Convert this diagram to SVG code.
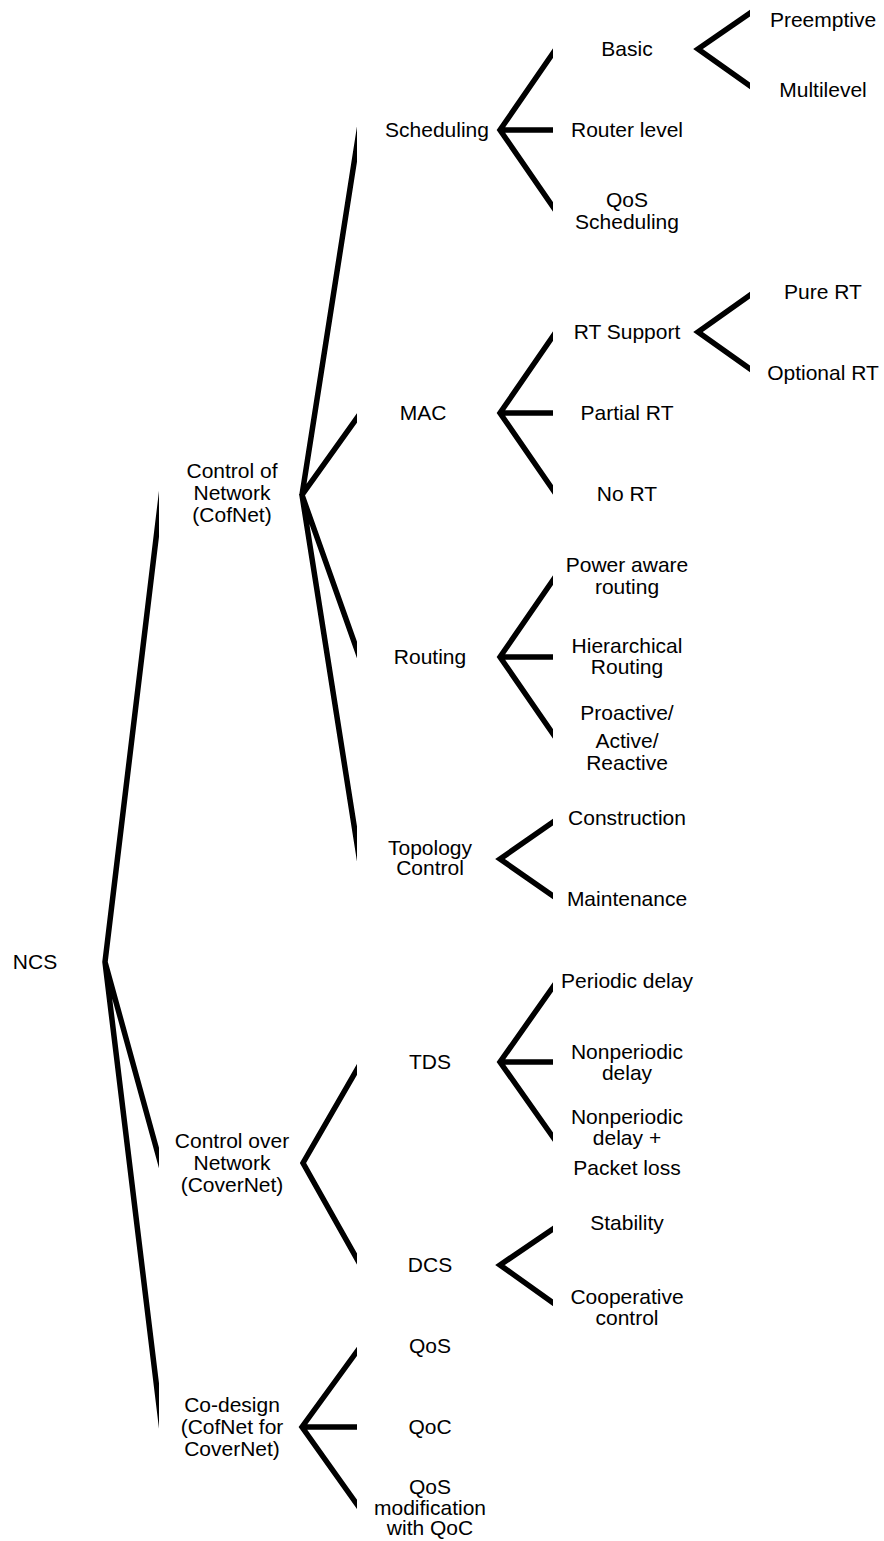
<svg xmlns="http://www.w3.org/2000/svg" width="884" height="1541" viewBox="0 0 884 1541">
<style>
text{font-family:"Liberation Sans",Arial,sans-serif;font-size:21px;fill:#000;text-anchor:middle}
.c{fill:none;stroke:#000;stroke-width:5.5;stroke-linejoin:miter;stroke-miterlimit:20;stroke-linecap:butt}
</style>
<defs>
<clipPath id="cols">
<rect x="80" y="0" width="79" height="1541"/>
<rect x="280" y="0" width="77" height="1541"/>
<rect x="480" y="0" width="73" height="1541"/>
<rect x="680" y="0" width="70" height="1541"/>
</clipPath>
</defs>
<rect width="884" height="1541" fill="#fff"/>
<g id="connectors" clip-path="url(#cols)">
<path class="c" d="M167.1,446.6 L105,962 L167.1,1472.6 M105,962 L167.1,1187.4"/>
<path class="c" d="M365.25,91.4 L302,495 L365.25,896.35 M365.25,406.45 L302,495 L365.25,673.25"/>
<path class="c" d="M365.1,1055.4 L303,1163 L365.1,1273.4"/>
<path class="c" d="M365.25,1340 L302,1427 L365.25,1516 M302,1427 L370,1427"/>
<path class="c" d="M561,41.5 L500,130 L561,218.5 M500,130 L565,130"/>
<path class="c" d="M561,324.5 L500,413 L561,501.5 M500,413 L565,413"/>
<path class="c" d="M561,568.5 L500,657 L561,745.5 M500,657 L565,657"/>
<path class="c" d="M561,816.5 L500,859 L561,901.5"/>
<path class="c" d="M561,975.5 L500,1062 L561,1148.5 M500,1062 L565,1062"/>
<path class="c" d="M561,1223.5 L500,1265 L561,1308.5"/>
<path class="c" d="M758,7.5 L698,49 L758,91.5"/>
<path class="c" d="M758,289.5 L698,332 L758,374.5"/>
</g>
<g id="n-ncs"><text x="35" y="969">NCS</text></g>
<g id="n-cofnet"><text x="232" y="478">Control of</text><text x="232" y="500">Network</text><text x="232" y="522">(CofNet)</text></g>
<g id="n-covernet"><text x="232" y="1148">Control over</text><text x="232" y="1170">Network</text><text x="232" y="1192">(CoverNet)</text></g>
<g id="n-codesign"><text x="232" y="1412">Co-design</text><text x="232" y="1434">(CofNet for</text><text x="232" y="1456">CoverNet)</text></g>
<g id="n-scheduling"><text x="437" y="137">Scheduling</text></g>
<g id="n-mac"><text x="423" y="420">MAC</text></g>
<g id="n-routing"><text x="430" y="664">Routing</text></g>
<g id="n-topology"><text x="430" y="855">Topology</text><text x="430" y="875">Control</text></g>
<g id="n-tds"><text x="430" y="1069">TDS</text></g>
<g id="n-dcs"><text x="430" y="1272">DCS</text></g>
<g id="n-qos"><text x="430" y="1353">QoS</text></g>
<g id="n-qoc"><text x="430" y="1434">QoC</text></g>
<g id="n-qosmod"><text x="430" y="1494">QoS</text><text x="430" y="1515">modification</text><text x="430" y="1535">with QoC</text></g>
<g id="n-basic"><text x="627" y="56">Basic</text></g>
<g id="n-router"><text x="627" y="137">Router level</text></g>
<g id="n-qossched"><text x="627" y="207">QoS</text><text x="627" y="229">Scheduling</text></g>
<g id="n-rtsupport"><text x="627" y="339">RT Support</text></g>
<g id="n-partialrt"><text x="627" y="420">Partial RT</text></g>
<g id="n-nort"><text x="627" y="501">No RT</text></g>
<g id="n-power"><text x="627" y="572">Power aware</text><text x="627" y="594">routing</text></g>
<g id="n-hier"><text x="627" y="653">Hierarchical</text><text x="627" y="674">Routing</text></g>
<g id="n-proactive"><text x="627" y="720">Proactive/</text><text x="627" y="748">Active/</text><text x="627" y="770">Reactive</text></g>
<g id="n-construction"><text x="627" y="825">Construction</text></g>
<g id="n-maintenance"><text x="627" y="906">Maintenance</text></g>
<g id="n-periodic"><text x="627" y="988">Periodic delay</text></g>
<g id="n-nonperiodic"><text x="627" y="1059">Nonperiodic</text><text x="627" y="1080">delay</text></g>
<g id="n-nonperiodicloss"><text x="627" y="1124">Nonperiodic</text><text x="627" y="1145">delay +</text><text x="627" y="1175">Packet loss</text></g>
<g id="n-stability"><text x="627" y="1230">Stability</text></g>
<g id="n-cooperative"><text x="627" y="1304">Cooperative</text><text x="627" y="1325">control</text></g>
<g id="n-preemptive"><text x="823" y="27">Preemptive</text></g>
<g id="n-multilevel"><text x="823" y="97">Multilevel</text></g>
<g id="n-purert"><text x="823" y="299">Pure RT</text></g>
<g id="n-optionalrt"><text x="823" y="380">Optional RT</text></g>
</svg>
